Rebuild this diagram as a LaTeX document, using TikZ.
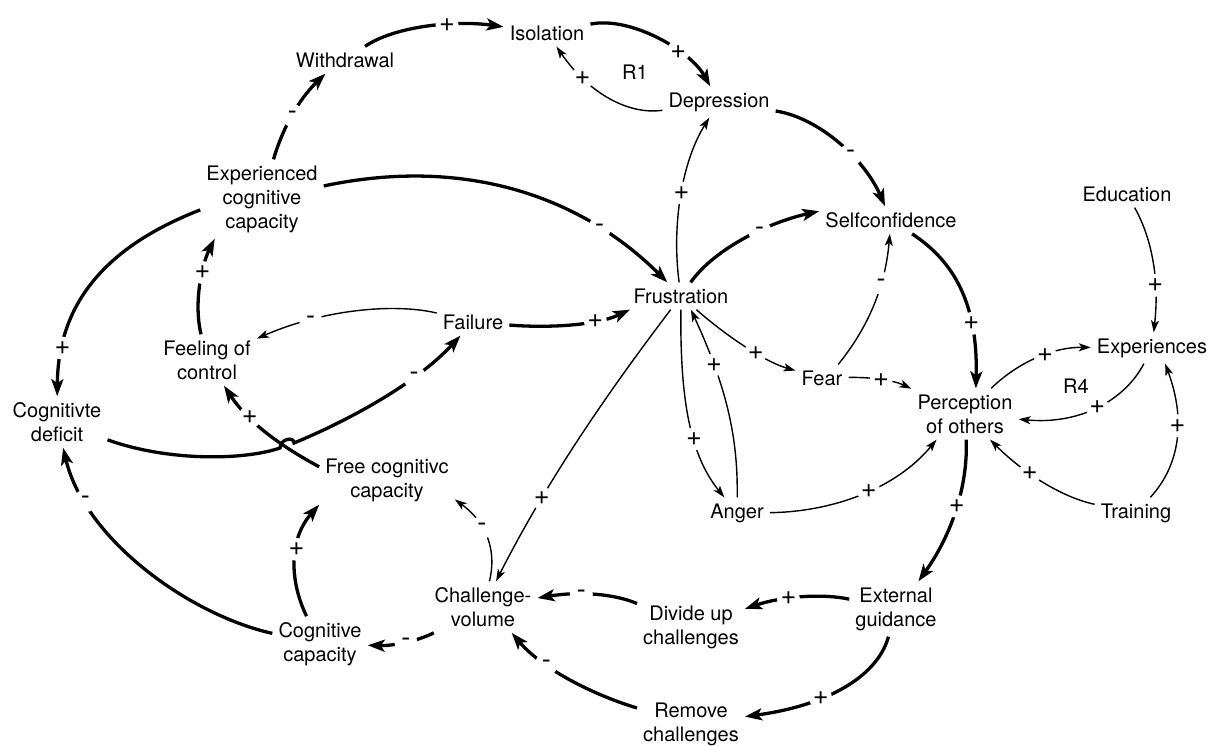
\documentclass[tikz,border=0pt]{standalone}
\usepackage{fontspec}
\setmainfont{TeX Gyre Heros}
\usetikzlibrary{arrows.meta}
\begin{document}
\begin{tikzpicture}[x=1pt,y=-1pt,
  var/.style={align=center, inner sep=6pt, font=\fontsize{20}{24}\selectfont},
  loopname/.style={inner sep=1pt, font=\fontsize{20}{24}\selectfont},
  thk/.style={line width=3.3pt, -{Stealth[length=17pt,width=12pt,inset=4pt]}},
  thn/.style={line width=1.4pt, -{Stealth[length=12pt,width=8pt,inset=3pt]}},
  sgn/.style={circle, fill=white, inner sep=0pt, minimum size=23pt, font=\fontsize{27}{27}\selectfont}]
\useasboundingbox (0,0) rectangle (1218,745);

% variables
\node[var] (wd)    at (345,60)    {Withdrawal};
\node[var] (iso)   at (547,33)    {Isolation};
\node[var] (dep)   at (719,102)   {Depression};
\node[var] (ecc)   at (262,199)   {Experienced\\cognitive\\capacity};
\node[var] (sc)    at (891,220)   {Selfconfidence};
\node[var] (edu)   at (1127,194)  {Education};
\node[var] (fru)   at (681,296)   {Frustration};
\node[var] (fail)  at (473,322)   {Failure};
\node[var] (foc)   at (207,360)   {Feeling of\\control};
\node[var] (cdef)  at (57,422)    {Cognitivte\\deficit};
\node[var] (fear)  at (822,378)   {Fear};
\node[var] (exp)   at (1152,348)  {Experiences};
\node[var] (poo)   at (965,414)   {Perception\\of others};
\node[var] (fcc)   at (387,480)   {Free cognitivc\\capacity};
\node[var] (anger) at (737,513)   {Anger};
\node[var] (train) at (1136,513)  {Training};
\node[var] (cv)    at (483,607)   {Challenge-\\volume};
\node[var] (cc)    at (320,644)   {Cognitive\\capacity};
\node[var] (div)   at (691,627)   {Divide up\\challenges};
\node[var] (ext)   at (896,609)   {External\\guidance};
\node[var] (rem)   at (691,724)   {Remove\\challenges};
\node[loopname] (r1) at (635,72)   {R1};
\node[loopname] (r4) at (1076,386) {R4};

% links
\draw[thk] (wd) .. controls (395,26) and (455,20) .. (iso) node[sgn,pos=.63] (s1) {+};
\draw[thk] (iso) .. controls (630,16) and (690,50) .. (dep) node[sgn,pos=.66] (s2) {+};
\draw[thn] (dep) .. controls (630,115) and (590,95) .. (iso) node[sgn,pos=.75] (s3) {+};
\draw[thk] (dep) .. controls (820,118) and (865,160) .. (sc) node[sgn,pos=.6] (s4) {-};
\draw[thn] (fru) .. controls (672,230) and (680,165) .. (dep) node[sgn,pos=.53] (s5) {+};
\draw[thk] (ecc) .. controls (470,155) and (585,200) .. (fru) node[sgn,pos=.75] (s6) {-};
\draw[thk] (fru) .. controls (715,248) and (770,222) .. (sc.173) node[sgn,pos=.6] (s7) {-};
\draw[thn] (edu) .. controls (1150,235) and (1160,275) .. (exp) node[sgn,pos=.7] (s8) {+};
\draw[thk] (sc) .. controls (955,262) and (978,305) .. (poo.67) node[sgn,pos=.7] (s9) {+};
\draw[thn] (fear.40) .. controls (866,330) and (885,290) .. (sc) node[sgn,pos=.68] (s10) {-};
\draw[thn] (fear) .. controls (870,377) and (893,380) .. (poo) node[sgn,pos=.5] (s11) {+};
\draw[thn] (poo) .. controls (1015,365) and (1050,347) .. (exp) node[sgn,pos=.6] (s12) {+};
\draw[thn] (exp) .. controls (1125,400) and (1080,425) .. (poo) node[sgn,pos=.5] (s13) {+};
\draw[thn] (train) .. controls (1180,465) and (1186,420) .. (exp.-50) node[sgn,pos=.6] (s14) {+};
\draw[thn] (train) .. controls (1060,497) and (1020,470) .. (poo) node[sgn,pos=.6] (s15) {+};
\draw[thn] (anger) .. controls (830,512) and (895,490) .. (poo.-138) node[sgn,pos=.55] (s16) {+};
\draw[thk] (poo) .. controls (968,480) and (955,530) .. (ext.51) node[sgn,pos=.5] (s17) {+};
\draw[thk] (ext) .. controls (820,593) and (780,597) .. (div) node[sgn,pos=.6] (s18) {+};
\draw[thk] (ext) .. controls (878,675) and (830,705) .. (rem) node[sgn,pos=.65] (s19) {+};
\draw[thk] (div) .. controls (615,594) and (580,591) .. (cv) node[sgn,pos=.63] (s20) {-};
\draw[thk] (rem) .. controls (600,697) and (545,672) .. (cv.-42) node[sgn,pos=.7] (s21) {-};
\draw[thk] (cv) .. controls (420,640) and (395,646) .. (cc) node[sgn,pos=.5] (s22) {-};
\draw[thn] (cv) .. controls (496,555) and (490,525) .. (fcc.-16) node[sgn,pos=.65] (s23) {-};
\draw[thn] (fru) .. controls (625,370) and (555,465) .. (cv) node[sgn,pos=.75] (s24) {+};
\draw[thn] (fru) .. controls (680,400) and (690,455) .. (anger) node[sgn,pos=.6] (s25) {+};
\draw[thn] (anger) .. controls (738,440) and (728,390) .. (fru.-54) node[sgn,pos=.75] (s26) {+};
\draw[thn] (fru) .. controls (725,335) and (765,362) .. (fear) node[sgn,pos=.6] (s27) {+};
\draw[thk] (fail) .. controls (545,328) and (595,326) .. (fru.-165) node[sgn,pos=.7] (s28) {+};
\draw[thn] (fail) .. controls (400,304) and (330,307) .. (foc) node[sgn,pos=.75] (s29) {-};
\draw[thk] (foc) .. controls (193,300) and (203,262) .. (ecc.-140) node[sgn,pos=.6] (s30) {+};
\draw[thk] (ecc) .. controls (282,130) and (298,100) .. (wd.-145) node[sgn,pos=.5] (s31) {-};
\draw[thk] (ecc.-170) .. controls (110,245) and (58,300) .. (cdef) node[sgn,pos=.82] (s32) {+};
\coordinate (j1) at (280,448);
\coordinate (j2) at (294,443);
\draw[thk] (cdef) .. controls (170,462) and (245,460) .. (j1)
  .. controls (280,439) and (294,436) .. (j2)
  .. controls (345,422) and (415,385) .. (fail) node[sgn,pos=.7] (s33) {-};
\draw[thk] (fcc.169) .. controls (292,452) and (252,428) .. (foc) node[sgn,pos=.72] (s34) {+};
\draw[thk] (cc) .. controls (290,582) and (288,540) .. (fcc.-160) node[sgn,pos=.6] (s35) {+};
\draw[thk] (cc) .. controls (190,615) and (85,540) .. (cdef) node[sgn,pos=.8] (s36) {-};
\end{tikzpicture}
\end{document}
